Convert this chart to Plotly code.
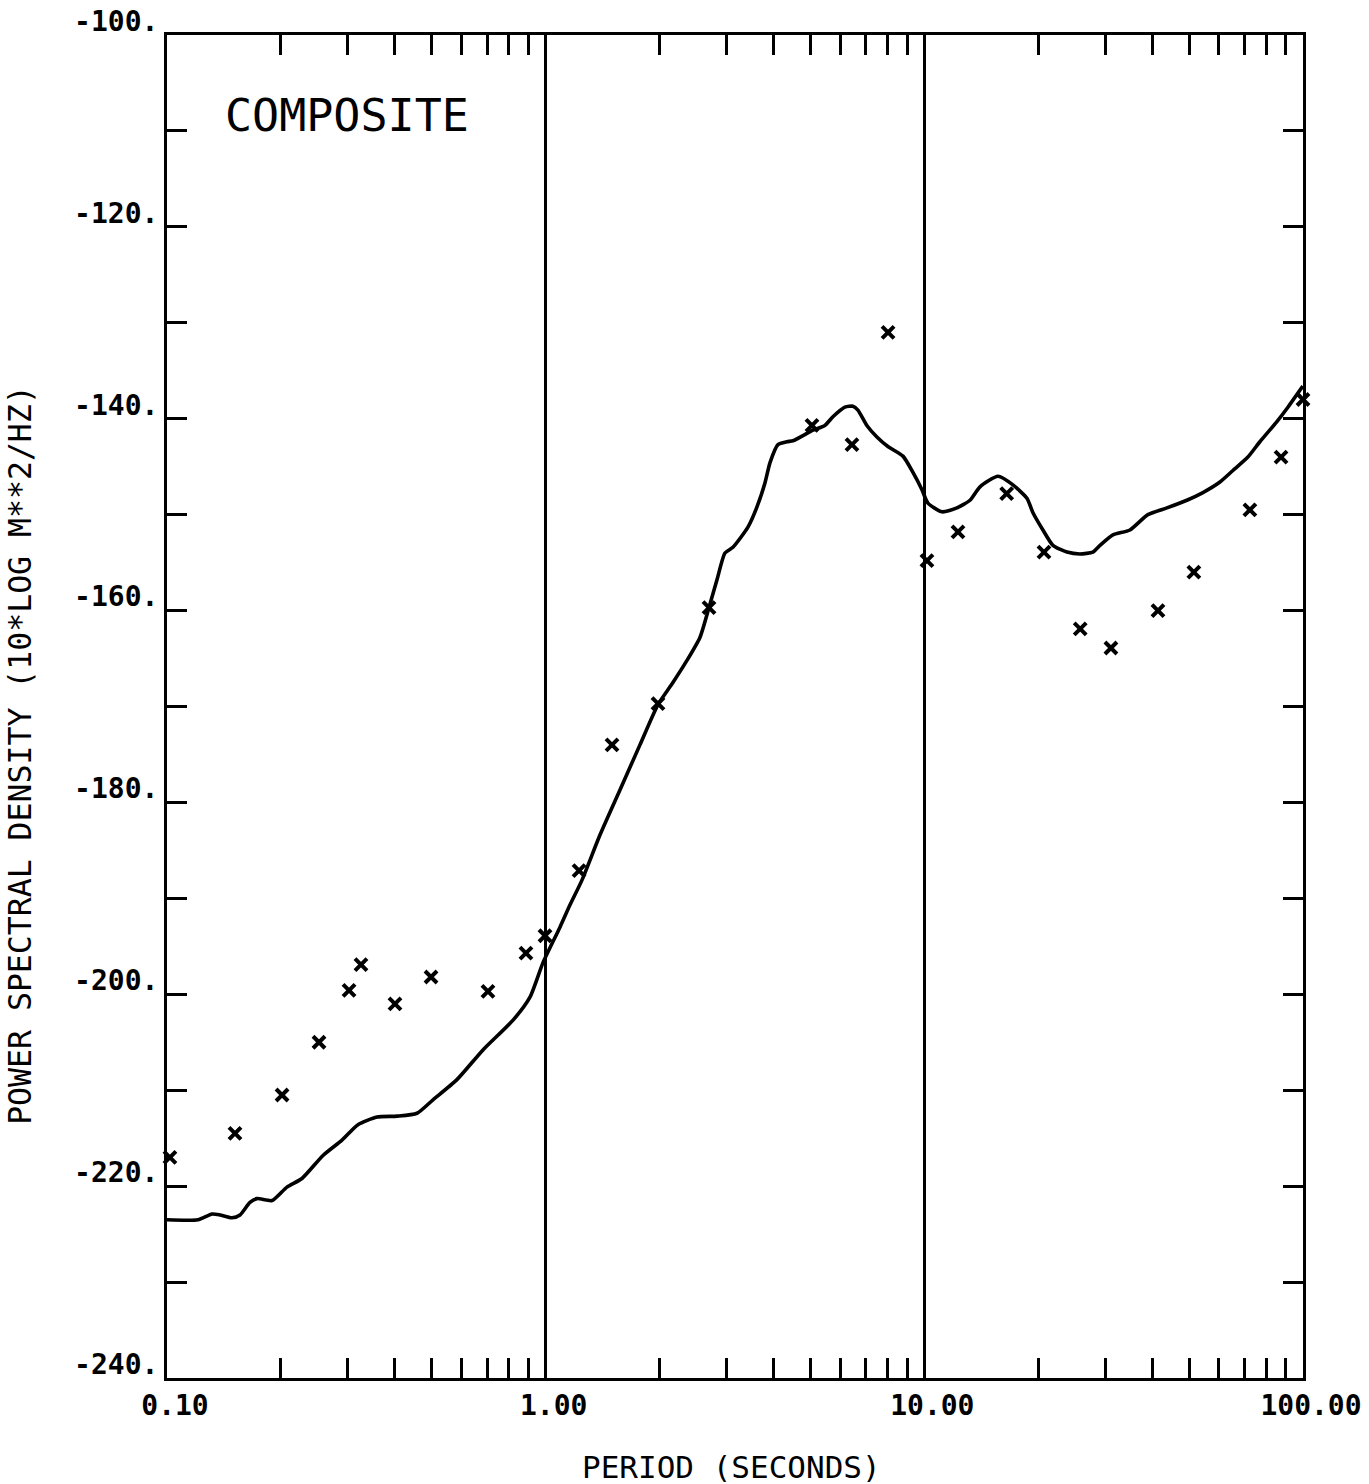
import plotly.graph_objects as go

# Smoothed composite spectrum (period in seconds, PSD in dB re 1 m**2/Hz)
curve_period = [0.100, 0.1207, 0.1315, 0.138, 0.1485, 0.1559, 0.1656, 0.1729, 0.1894, 0.2074,
                0.2272, 0.2582, 0.2898, 0.3194, 0.3585, 0.405, 0.4574, 0.504, 0.583, 0.683,
                0.820, 0.909, 0.984, 1.091, 1.159, 1.247, 1.391, 1.571, 1.774, 1.98,
                2.168, 2.361, 2.555, 2.699, 2.834, 2.975, 3.123, 3.421, 3.614, 3.794,
                3.911, 4.106, 4.337, 4.498, 5.079, 5.463, 5.735, 6.17, 6.478, 6.677,
                7.05, 7.495, 8.014, 8.781, 9.331, 9.856, 10.22, 11.13, 12.19, 13.20,
                14.03, 15.65, 17.14, 18.66, 19.36, 20.57, 21.86, 23.80, 25.76, 27.87,
                29.09, 31.48, 34.91, 38.94, 43.71, 49.36, 54.41, 60.35, 65.30, 71.52,
                76.95, 85.33, 91.23, 99.9]
curve_psd = [-223.5, -223.5, -222.9, -223.0, -223.3, -223.0, -221.7, -221.3, -221.5, -220.1,
             -219.2, -216.8, -215.2, -213.6, -212.8, -212.7, -212.4, -211.0, -208.9, -205.8,
             -202.7, -200.3, -196.7, -193.0, -190.7, -188.1, -183.4, -178.7, -174.0, -169.8,
             -167.5, -165.2, -162.8, -159.7, -156.8, -154.0, -153.4, -151.3, -149.2, -146.7,
             -144.6, -142.7, -142.4, -142.3, -141.2, -140.7, -139.8, -138.8, -138.7, -139.1,
             -140.7, -141.9, -142.9, -143.9, -145.6, -147.4, -148.8, -149.7, -149.3, -148.5,
             -147.1, -146.0, -146.9, -148.3, -149.8, -151.6, -153.2, -153.9, -154.1, -153.9,
             -153.2, -152.1, -151.6, -150.0, -149.3, -148.5, -147.7, -146.6, -145.4, -144.0,
             -142.4, -140.3, -138.8, -136.6]

# Individual spectral estimates plotted as crosses
pts_period = [0.1018, 0.1512, 0.2013, 0.252, 0.3025, 0.3253, 0.40, 0.498, 0.704, 0.887,
              0.996, 1.225, 1.497, 1.98, 2.70, 5.05, 6.44, 8.02, 10.16, 12.27,
              16.5, 20.7, 25.8, 31.1, 41.4, 51.5, 72.4, 87.5, 100.0]
pts_psd = [-217.0, -214.5, -210.5, -205.0, -199.6, -196.9, -201.0, -198.2, -199.7, -195.7,
           -193.9, -187.1, -174.0, -169.7, -159.7, -140.7, -142.7, -131.0, -154.8, -151.8,
           -147.8, -153.9, -161.9, -163.9, -160.0, -156.0, -149.5, -144.0, -138.0]

x_major = [0.1, 1, 10, 100]
x_major_text = ["0.10", "1.00", "10.00", "100.00"]
x_minor = [m * d for d in (0.1, 1, 10) for m in range(2, 10)]
y_ticks = list(range(-240, -99, 10))
y_tick_text = [f"{v}." if v % 20 == 0 else "" for v in y_ticks]

MONO = "DejaVu Sans Mono"
minor_ticks = dict(tickmode="array", tickvals=x_minor, ticks="inside",
                   ticklen=20, tickwidth=3, tickcolor="black", showgrid=False)

fig = go.Figure()
fig.add_trace(go.Scatter(
    x=curve_period, y=curve_psd, mode="lines", xaxis="x2",
    line=dict(color="black", width=3.6, shape="spline", smoothing=0.6),
    showlegend=False, hoverinfo="skip",
))
fig.add_trace(go.Scatter(
    x=pts_period, y=pts_psd, mode="markers",
    marker=dict(symbol="x-thin", size=12, color="black",
                line=dict(color="black", width=4)),
    cliponaxis=False, showlegend=False,
))

fig.add_annotation(
    text="COMPOSITE", xref="paper", yref="paper", x=0.049, y=0.9404,
    xanchor="left", yanchor="middle", showarrow=False,
    font=dict(family=MONO, size=45, color="black"),
)
fig.add_annotation(
    text="PERIOD (SECONDS)", xref="paper", yref="paper", x=0.497, y=-0.0662,
    xanchor="center", yanchor="middle", showarrow=False,
    font=dict(family=MONO, size=31, color="black"),
)
fig.add_annotation(
    text="POWER SPECTRAL DENSITY (10*LOG M**2/HZ)", xref="paper", yref="paper",
    x=-0.1295, y=0.4639, xanchor="center", yanchor="middle", textangle=-90,
    showarrow=False, font=dict(family=MONO, size=31.5, color="black"),
)

fig.update_layout(
    width=1369, height=1484,
    margin=dict(l=167, r=66, t=35, b=106),
    paper_bgcolor="white", plot_bgcolor="white",
    font=dict(family=MONO, color="black"),
    xaxis=dict(
        type="log", range=[-1, 2], automargin=False,
        tickmode="array", tickvals=x_major, ticktext=x_major_text,
        ticks="", showgrid=True, gridcolor="black", gridwidth=2.5,
        showline=True, linecolor="black", linewidth=3, mirror=True,
        tickfont=dict(family=MONO, size=28, color="black", weight="bold"),
        ticklabelshift=8,
        minor=minor_ticks,
        zeroline=False,
    ),
    xaxis2=dict(
        type="log", range=[-1, 2], overlaying="x", side="top", anchor="y",
        matches="x", tickmode="array", tickvals=[], showticklabels=False,
        ticks="", showgrid=False, showline=False, zeroline=False,
        automargin=False, minor=minor_ticks,
    ),
    yaxis=dict(
        range=[-240, -100], automargin=False,
        tickmode="array", tickvals=y_ticks, ticktext=y_tick_text,
        ticks="inside", ticklen=20, tickwidth=3, tickcolor="black",
        showgrid=False, zeroline=False,
        showline=True, linecolor="black", linewidth=3, mirror="ticks",
        tickfont=dict(family=MONO, size=28, color="black", weight="bold"),
        ticklabelshift=-14,
    ),
)

fig.write_html("out.html")
